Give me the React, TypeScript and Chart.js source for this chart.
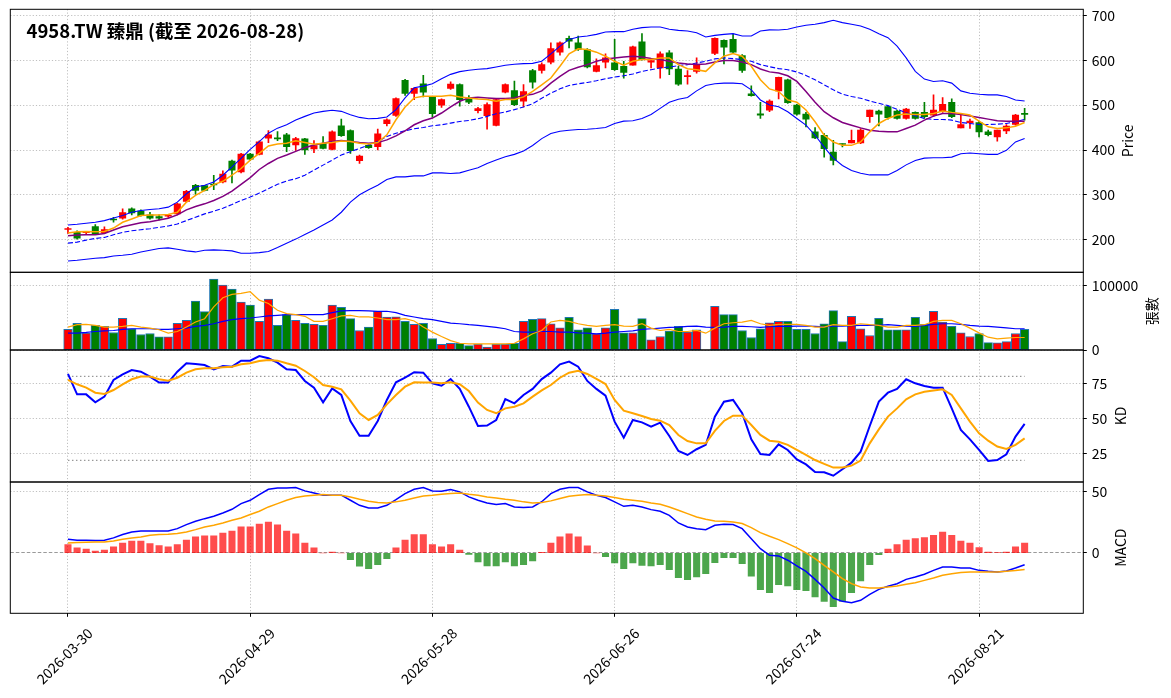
import React, { useEffect, useRef } from "react";
import { Chart, registerables } from "chart.js";

Chart.register(...registerables);

const FONT = "'Noto Sans CJK TC', 'Noto Sans CJK SC', sans-serif";
const TITLE = "4958.TW 臻鼎 (截至 2026-08-28)";

const DATES = [
  "2026-03-30","2026-03-31","2026-04-01","2026-04-02","2026-04-07","2026-04-08","2026-04-09","2026-04-10","2026-04-13","2026-04-14",
  "2026-04-15","2026-04-16","2026-04-17","2026-04-20","2026-04-21","2026-04-22","2026-04-23","2026-04-24","2026-04-27","2026-04-28",
  "2026-04-29","2026-04-30","2026-05-04","2026-05-05","2026-05-06","2026-05-07","2026-05-08","2026-05-11","2026-05-12","2026-05-13",
  "2026-05-14","2026-05-15","2026-05-18","2026-05-19","2026-05-20","2026-05-21","2026-05-22","2026-05-25","2026-05-26","2026-05-27",
  "2026-05-28","2026-05-29","2026-06-01","2026-06-02","2026-06-03","2026-06-04","2026-06-05","2026-06-08","2026-06-09","2026-06-10",
  "2026-06-11","2026-06-12","2026-06-15","2026-06-16","2026-06-17","2026-06-18","2026-06-22","2026-06-23","2026-06-24","2026-06-25",
  "2026-06-26","2026-06-29","2026-06-30","2026-07-01","2026-07-02","2026-07-03","2026-07-06","2026-07-07","2026-07-08","2026-07-09",
  "2026-07-10","2026-07-13","2026-07-14","2026-07-15","2026-07-16","2026-07-17","2026-07-20","2026-07-21","2026-07-22","2026-07-23",
  "2026-07-24","2026-07-27","2026-07-28","2026-07-29","2026-07-30","2026-07-31","2026-08-03","2026-08-04","2026-08-05","2026-08-06",
  "2026-08-07","2026-08-10","2026-08-11","2026-08-12","2026-08-13","2026-08-14","2026-08-17","2026-08-18","2026-08-19","2026-08-20",
  "2026-08-21","2026-08-24","2026-08-25","2026-08-26","2026-08-27","2026-08-28",
];

const OPEN = [
  223, 216.5, 216, 229.2, 215.8, 246, 247.9, 268.9, 263.7, 255.4,
  251.7, 252.5, 257.7, 285.4, 321.3, 320.6, 324, 328.8, 375.3, 351.3,
  391, 390.3, 426.2, 425.5, 433.7, 411.2, 424.7, 402.2, 414.9, 401.5,
  453.9, 443.4, 376, 410.5, 407.5, 458.4, 477.1, 555, 525.8, 547.5,
  518.3, 499.6, 537.1, 546, 514.6, 487.6, 476.4, 454.7, 528.8, 532.6,
  508.6, 577, 577.4, 595.4, 617.9, 648.6, 638.8, 623.9, 575.2, 595.4,
  593.9, 586.4, 588.7, 641.1, 595.4, 582.7, 616.4, 580.4, 563.5, 575.2,
  null, 614.9, 644.1, 646.3, 610.4, 525, 480.8, 489, 531.7, 556.4,
  500.3, 480, 440.4, 432.9, 395.4, 413, 415.6, 415.6, 474, 486.8,
  496.5, 486.8, 470.3, 483.8, 483.8, 477.8, 485.3, 506.3, 449.3, 460.6,
  461.3, 440.4, 429.1, 442.6, 456.8, 481.5,
];
const HIGH = [
  227.7, 220, 219, 233.7, 229, 250, 268.9, 271.2, 266.7, 261.4,
  255.4, 256, 281.6, 310, 323.6, 321.3, 343.8, 353.6, 377.5, 392.5,
  392.5, 420.2, 443.4, 441, 437.4, 428, 426, 421, 430, 442.7,
  468.9, 444.9, 388.8, 415, 446.4, 469.6, 516.1, 557.3, 538.6, 566.3,
  519.8, 513.8, 552, 547.5, 521.3, 495, 504.8, 514.6, 547.5, 553.5,
  546, 579.5, 593.9, 638.8, 641.1, 653.8, 653.8, 626.1, 602.9, 614.1,
  646.3, 597.6, 631.3, 659.1, 603.6, 618.6, 621.6, 586.4, 576.7, 605.1,
  null, 650.1, 645.6, 657.6, 612.6, 542.9, 506.3, 511.5, 562.5, 557.9,
  501.8, 483.8, 450.1, 436.6, 421.6, 414, 444.1, 447.8, 489, 489,
  498, 489, 492.8, 485.3, 506.3, 522.7, 516.7, 513.8, 477.8, 468.8,
  464.3, 444.1, 444.1, 456.8, 479.3, 492.8,
];
const LOW = [
  214.2, 201.5, 213, 211.2, 215, 239, 245.7, 255.4, 252.4, 245.7,
  244.2, 250, 255.4, 283.9, 301.1, 308.6, 311.6, 326.6, 326.6, 349.1,
  376, 388.8, 416.5, 421, 396.3, 399, 390.3, 394, 402.2, 400,
  430, 392.5, 370, 403.7, 400, 453.9, 474.9, 521.3, 512.3, 518.3,
  473.4, 495.1, 534.8, 497.4, 503.3, 482.4, 446.4, 453.9, 527.3, 498.9,
  495.9, 538, 571.4, 591.6, 611.1, 627.6, 621.6, 582.7, 573.7, 582.7,
  577.4, 560.2, 588.7, 599.9, 582.7, 560.2, 567.7, 543.7, 546.7, 571.4,
  null, 612.6, 591.6, 616.4, 572.9, 520, 470.3, 485.3, 513.7, 504,
  477.8, 451.6, 425.4, 384.2, 367, 406.6, 415.6, 414.1, 461.3, 453.8,
  468.8, 468.8, 468.8, 468.8, 470.3, 474, 483.8, 471.8, 449.3, 447.8,
  429.1, 431.4, 419.4, 436.6, 455.3, 466.6,
];
const CLOSE = [
  225, 203.8, 217.5, 212.7, 222.5, 244, 260.7, 259.9, 253.9, 247.9,
  247.9, 254, 280.1, 307.9, 310.1, 310.1, 322, 346.1, 355, 391,
  379.8, 418, 433.7, 424.7, 407.5, 425.5, 400, 409.7, 403.7, 440.4,
  432.2, 398.5, 386.5, 405.2, 435.9, 467.4, 514.6, 525.8, 537.1, 528.8,
  480.9, 512.3, 546.8, 512.3, 506.3, 492.1, 501.1, 512.3, 546, 501.1,
  530.3, 551, 590.1, 626.1, 638.8, 642.6, 623.9, 584.9, 587.9, 605.1,
  578.9, 572.9, 629.9, 601.4, 599.1, 614.1, 580.4, 546.7, 564.5, 590.1,
  null, 648.6, 629.1, 617.9, 577.4, 521.2, 477.8, 509, 561.7, 505.5,
  480, 468.8, 426.9, 402.9, 376.7, 412.2, 421.6, 444.1, 489, 480,
  471.8, 470.3, 491.3, 470.3, 474, 489, 501.8, 474, 456.8, 464.3,
  440.4, 434.4, 444.1, 453.1, 477.8, 479.3,
];

const MA5 = [
  215, 218, 218.5, 218, 218.7, 226.2, 239, 246.4, 253.9, 255.4,
  255.4, 256.2, 261.4, 283.9, 298.9, 310.1, 322.8, 330.3, 343.8, 358.8,
  377.5, 392.5, 409, 413.5, 415, 420.5, 416.5, 412.7, 414.9, 416.5,
  420.2, 418.7, 414.9, 413.5, 416.5, 433.7, 467.4, 495.9, 516.1, 519.8,
  519.8, 519.8, 522.1, 518.3, 516.1, 513.8, 512.3, 508.6, 512.3, 512.3,
  518.3, 530.5, 545.2, 560.2, 586.4, 614.1, 625.4, 623.9, 617.9, 608.9,
  597.6, 588.7, 597.6, 601.4, 601.4, 605.1, 605.1, 590.2, 581.2, 578.9,
  575.2, 593.9, 608.9, 614.9, 608.9, 586.4, 556.4, 536, 530.2, 511.5,
  506.3, 489, 462.8, 432.9, 417.9, 410.4, 410.4, 417.9, 440.4, 459.1,
  470.3, 477.8, 480.1, 479.3, 479.3, 481.5, 486.8, 483.8, 481.5, 477.8,
  464.3, 451.6, 447.8, 449.3, 453.1, 461.3,
];
const MA10 = [
  209, 210.5, 211.2, 211.2, 214.2, 221.7, 229.2, 233.7, 238.2, 240.4,
  244.2, 247.9, 255.4, 266.7, 274.2, 280.1, 287.6, 296.6, 308.6, 323.6,
  338.6, 356.6, 370, 381.3, 388.8, 397, 405.2, 411.2, 414.9, 418.7,
  421, 418.7, 416.5, 414.9, 416.5, 422.5, 431.4, 442.7, 456.2, 465.2,
  471.1, 482.4, 495.9, 508.6, 516.1, 517.6, 516.1, 514.6, 514.6, 516.1,
  521.3, 524, 531.7, 549, 564, 577.4, 584.2, 590.2, 597.6, 602.9,
  605.1, 607.4, 608.9, 607.4, 603.6, 601.4, 597.6, 593.9, 591.6, 590.2,
  591.6, 596.1, 599.1, 599.1, 596.1, 590.2, 580.4, 574, 571.4, 565.4,
  552.7, 530.2, 506.3, 485.3, 471.8, 461.3, 455.3, 449.3, 444.1, 441.9,
  440.4, 440.4, 447.8, 455.3, 466.6, 475.5, 481.5, 481.5, 479.3, 475.5,
  472.6, 468.8, 465.1, 464.3, 464.3, 464.3,
];
const BB_UP = [
  233, 234.5, 236.7, 239, 242.7, 248.7, 254, 261.4, 265.2, 267.4,
  269, 272.7, 283.9, 302.6, 317.6, 321.3, 328.8, 343.8, 362.5, 381.3,
  401.5, 418.7, 437.4, 448.7, 456.2, 467, 474.9, 482.4, 486.1, 488.4,
  486.1, 478.6, 472.6, 469.6, 470.4, 473.4, 489.9, 516.1, 538.6, 542.3,
  547.5, 558.8, 568.5, 574.5, 577.5, 579.8, 581.2, 585, 588.7, 591,
  592.5, 593, 597.6, 614.1, 631.3, 646.3, 651.6, 653.8, 657.6, 662.8,
  663.6, 663.6, 668.8, 672.5, 674, 674, 668.8, 666.5, 665.1, 661.3,
  651.6, 655.3, 657.6, 659.1, 653.8, 653.8, 665.1, 667.5, 667.3, 668.8,
  674, 677.8, 680, 683.8, 689, 683.8, 680, 676.3, 668.8, 659.1,
  650.1, 631.3, 605.1, 575.2, 558, 552.7, 554.2, 549, 531.7, 526.5,
  524.2, 522.7, 522.7, 519, 511.5, 509.3,
];
const BB_MID = [
  192.5, 194.8, 199.3, 203, 205.3, 211.2, 216.5, 220.2, 222.5, 224.7,
  227.7, 230.7, 235.2, 242.7, 250.2, 257.7, 263.7, 270.4, 278.6, 287.6,
  295.1, 304.1, 313.9, 323.6, 331.1, 336, 343.8, 355.1, 366.3, 377.5,
  388.8, 396.3, 403.7, 411.2, 418.7, 430, 437.4, 442.7, 447.2, 450.2,
  453.9, 456.2, 459.9, 463.6, 465.9, 469.6, 474.9, 480.9, 484.6, 489.9,
  495.9, 503, 515.3, 526.5, 536.2, 543.7, 547.5, 550.5, 554.2, 558.7,
  562.4, 565.4, 569.2, 575.2, 578.9, 582.7, 584.9, 587.9, 590.2, 593.9,
  597.6, 602.9, 605.1, 603.6, 601.4, 597.6, 590.2, 585.5, 581.2, 578.9,
  573.7, 566.2, 556.4, 545.2, 534, 524.2, 519, 515.3, 509.3, 504,
  498.8, 490.5, 483, 476.3, 470.3, 468.1, 468.1, 466.6, 461.3, 459.1,
  456.8, 456.8, 457.6, 459.1, 462.8, 468.1,
];
const BB_LOW = [
  152.8, 154.3, 156.6, 158.8, 160.3, 164, 165.5, 167.8, 173, 176.8,
  180.5, 182, 179, 175.3, 173, 176.8, 177.5, 176.8, 175.3, 170,
  170, 171.5, 173.8, 182.8, 192.5, 201.5, 212, 222, 233, 244.2,
  261.4, 283.9, 300.4, 311.6, 321.3, 334.1, 340.1, 340.1, 342.3, 342.3,
  349.1, 349.1, 347.6, 349.1, 355.1, 360.3, 370, 377.5, 385, 390.3,
  397.8, 410, 425.4, 436.6, 441.9, 444.1, 445.6, 446.3, 447.8, 450.1,
  459.1, 464.3, 465.1, 470.3, 479.3, 492.8, 506.3, 513, 516.8, 531.7,
  543.7, 547.5, 549, 549, 547.5, 534, 511.5, 500.3, 496.5, 485.3,
  470.3, 455.3, 432.9, 406.6, 381.9, 365.5, 354.2, 348.2, 344.5, 344.5,
  344.5, 354.2, 366.9, 376.7, 381.9, 382.7, 382.7, 384.2, 391.7, 393.2,
  391.7, 390.2, 390.2, 399.2, 417.9, 425.4,
];

const VOLUME = [
  32100, 41600, 26300, 38400, 36800, 27400, 49500, 33200, 24200, 25800,
  20500, 20500, 41600, 46300, 76300, 60000, 111000, 101600, 95300, 74700,
  70000, 44700, 79500, 38400, 55300, 46300, 41600, 40000, 38400, 70000,
  66800, 48900, 30500, 35800, 60500, 51600, 52000, 44700, 40000, 41600,
  17900, 8900, 10500, 10500, 6800, 8900, 4700, 8900, 8900, 10500,
  44700, 47900, 49000, 41000, 34700, 51000, 31600, 34700, 25300, 34700,
  63700, 26800, 26800, 49000, 15800, 21100, 29500, 36800, 27900, 31600,
  0, 68400, 55300, 55300, 30500, 19500, 33200, 42600, 44700, 44700,
  32100, 32100, 25800, 41000, 61600, 13200, 52600, 33200, 22600, 49500,
  31600, 31600, 31600, 51000, 40000, 60500, 43700, 36800, 26800, 21100,
  25800, 11600, 11100, 13200, 25800, 32100,
];
const VOL_MA5 = [
  35800, 39500, 40000, 38400, 35800, 35800, 36800, 38400, 35800, 34200,
  31600, 26300, 28900, 35800, 43700, 48900, 67400, 81600, 86800, 88400,
  91100, 77900, 72600, 62100, 56800, 55300, 52600, 44700, 44700, 48900,
  53200, 54200, 51600, 51600, 50000, 47400, 47400, 48900, 45300, 35800,
  27900, 21100, 14700, 10500, 9500, 9500, 9500, 9500, 9500, 10500,
  17400, 25300, 30500, 43700, 46300, 44700, 41000, 38400, 36800, 38400,
  39500, 37400, 36800, 41000, 34200, 30500, 32100, 28900, 28900, 30500,
  26300, 34200, 41000, 42600, 43700, 46300, 41000, 38400, 40000, 40000,
  40000, 38400, 35800, 35800, 39500, 38400, 38400, 41000, 39500, 38400,
  35800, 35800, 38400, 38400, 39500, 44700, 46300, 46300, 41000, 34200,
  26800, 20000, 17400, 18400, 19500, 19500,
];
const VOL_MA20 = [
  26300, 26300, 27400, 28900, 30000, 30500, 32100, 33200, 33200, 33200,
  32100, 32100, 33200, 34200, 36800, 38400, 41000, 44700, 47400, 48900,
  50000, 51600, 53200, 54200, 55300, 55300, 55300, 55300, 55300, 58400,
  61100, 61600, 61600, 61100, 60500, 60500, 58400, 54200, 51600, 48900,
  47400, 44700, 42100, 41000, 39500, 38400, 36800, 35300, 33200, 28900,
  27900, 27900, 28900, 28900, 27900, 27900, 26800, 26300, 25300, 26300,
  27900, 28900, 30000, 32100, 33200, 34200, 35300, 35800, 36800, 37400,
  35800, 35300, 35800, 36800, 36800, 36300, 35300, 36300, 36800, 36800,
  37400, 37400, 36800, 36300, 37400, 37400, 37900, 38400, 38400, 38400,
  39500, 38400, 37400, 36800, 38400, 40000, 41000, 41000, 40000, 38400,
  37400, 36800, 35800, 34700, 33200, 33200,
];

const K_LINE = [
  81.7, 67.1, 67.1, 61.4, 65.5, 77.4, 81.4, 84.5, 83.3, 79.8,
  75.5, 75.5, 83.3, 89.3, 88.8, 88.1, 85, 87.4, 86.9, 91.2,
  91.2, 94.5, 92.9, 89.8, 85, 84.5, 76.7, 71.9, 61.4, 71.4,
  66.7, 48.1, 37.6, 37.6, 48.1, 63.1, 75.7, 79, 82.9, 82.6,
  75, 73.3, 78.1, 71, 58.3, 44.5, 44.8, 48.8, 63.8, 60.7,
  66.7, 71, 78, 82.6, 88.6, 90.5, 86.9, 76.7, 71, 66.2,
  47.6, 36.2, 48.8, 47.1, 44, 46.9, 37.4, 26.7, 23.8, 27.9,
  31, 51.2, 61.9, 63.1, 53.6, 35, 24.5, 23.8, 31.4, 27.4,
  20.7, 17.1, 11.7, 11.4, 9, 13.6, 18.3, 26.2, 44.5, 61.9,
  68.3, 71, 77.9, 75, 73.1, 71.9, 71.9, 57.1, 41.7, 35,
  27.4, 19.5, 20.2, 24.3, 36.9, 46,
];
const D_LINE = [
  77.4, 74.3, 71.9, 68.3, 67.4, 70.2, 74.3, 77.9, 79.8, 79.8,
  77.9, 76.9, 79, 82.6, 85, 85.7, 85.7, 86.4, 86.9, 88.6,
  89.3, 91, 91.7, 91.2, 89.3, 87.6, 83.8, 79.3, 73.8, 72.6,
  70.7, 62.6, 53.6, 48.8, 52.4, 60, 66.7, 72.6, 75.7, 75.5,
  75.5, 75, 75.7, 74.3, 69.5, 61.2, 56, 53.6, 57.1, 58.3,
  60.7, 65.5, 70, 73.8, 79, 82.6, 84, 81.7, 78.1, 74.5,
  63.1, 55.5, 53.6, 51.7, 49.5, 48.3, 45.2, 38.1, 33.8, 32.1,
  32.1, 41, 48.1, 51.9, 51.9, 45.2, 38.1, 34, 33.3, 31,
  27.4, 23.8, 20.2, 17.4, 14.8, 14.8, 16.2, 19.8, 32.1, 42.1,
  51.2, 57.1, 63.6, 67.1, 69, 69.8, 70.7, 66.7, 57.1, 47.6,
  39.3, 34, 29.8, 28.1, 31, 35.7,
];
const KD_LEVELS = [80, 20];

const DIF = [
  11.1, 10.3, 10.3, 10, 10.3, 12.2, 14.9, 17, 17.8, 17.8,
  17.8, 17.8, 19.7, 23, 25.7, 27.8, 29.7, 32.4, 35.4, 40,
  42.7, 47.3, 51.6, 52.7, 52.7, 53, 50.3, 48.6, 46.8, 46.8,
  46.8, 42.7, 38.6, 36.5, 36.5, 38.6, 43.2, 48.1, 51.6, 53,
  50.3, 50, 51.4, 49.5, 45.4, 42.7, 40.5, 39.2, 40, 37.3,
  36.8, 37.3, 41.5, 48.1, 51.6, 53, 53, 49.5, 46.8, 44.9,
  41.4, 37.8, 38.6, 37.3, 35.1, 33.8, 30.5, 24.3, 21.1, 19.7,
  18.9, 22.4, 23.2, 23, 19.7, 11.6, 3.5, -1.9, -2.4, -5.9,
  -10.5, -14.9, -21.4, -28.4, -36.5, -39.2, -40.3, -38.4, -33.5, -29.5,
  -27, -24.9, -21.4, -19.5, -17.3, -14.1, -11.4, -11.4, -12.2, -12.2,
  -14.1, -14.9, -15.4, -14.6, -12.2, -9.5,
];
const DEA = [
  8.1, 8.4, 8.6, 8.9, 8.9, 9.7, 11.1, 12.2, 13, 14.3,
  14.9, 15.1, 15.7, 17, 18.9, 21.1, 22.4, 24.3, 26.5, 28.4,
  31.1, 33.8, 37.3, 40, 42.7, 44.9, 46.2, 46.8, 47.3, 46.8,
  46.8, 45.4, 43.5, 41.9, 40.8, 40.5, 41.4, 42.7, 44.6, 46.2,
  46.8, 47.6, 48.1, 48.6, 47.5, 46.8, 45.4, 44.6, 43.5, 42.7,
  41.4, 40.5, 40.8, 42.2, 44.1, 45.9, 46.8, 47.3, 46.8, 46.2,
  44.9, 43.5, 42.7, 41.9, 40.5, 39.5, 37.3, 34.6, 31.9, 29.2,
  27.3, 25.9, 25.7, 25.1, 23.8, 20.5, 16.5, 13.5, 10.8, 7.6,
  4.1, 0, -4.6, -10, -15.4, -20.8, -24.9, -27.6, -28.4, -28.4,
  -27.6, -26.8, -25.4, -24.1, -22.2, -20.3, -18.1, -16.8, -15.9, -15.4,
  -15.4, -15.4, -15.4, -14.9, -14.3, -13.5,
];
const HIST = [
  6.8, 4.1, 3.2, 1.6, 2.4, 4.9, 8.1, 9.7, 9.7, 7.6,
  5.9, 4.9, 6.8, 10.5, 13, 13.8, 13.8, 16.2, 17.8, 21.1,
  21.1, 23.5, 25.1, 22.7, 17.8, 15.4, 8.1, 4.1, 0, 0.8,
  0, -5.4, -10.8, -12.7, -9.5, -4.6, 4.1, 10.5, 14.9, 14.9,
  6.8, 4.9, 6.8, 2.4, -1.1, -7.3, -10.5, -10.5, -7.3, -10.5,
  -9.5, -6.5, 0.5, 8.1, 13, 15.4, 13, 5.7, 0, -3,
  -8.1, -12.7, -8.1, -10, -10.5, -9.5, -13.5, -20, -21.6, -19.5,
  -16.8, -7.8, -3.8, -3.8, -8.6, -18.9, -29.7, -32.2, -25.7, -26.8,
  -29.7, -30.5, -35.7, -39.2, -43.5, -39.2, -32.2, -22.7, -9.5, -1.4,
  3.2, 6.8, 10.5, 11.6, 12.4, 14.3, 17, 14.3, 9.7, 8.1,
  4.3, 0.8, 0.3, 0.8, 4.9, 8.1,
];

const X_TICKS = [0, 20, 40, 60, 80, 100];
const PRICE_TICKS = [200, 300, 400, 500, 600, 700];
const VOL_TICKS = [0, 100000];
const KD_TICKS = [25, 50, 75];
const MACD_TICKS = [0, 50];

// ---- layout / style constants ----
const PAGE_W = 1171;
const PAGE_H = 698;
const PLOT_LEFT = 10.3;
const PLOT_RIGHT = 1083.3;
const X_MIN = -6.33;
const X_MAX = 111.44;
const RED = "#ff0000";
const GREEN = "#008000";
const BLUE = "#0000ff";
const ORANGE = "#ffa500";
const PURPLE = "#800080";
const GRID = "#b0b0b0";

const IDX = DATES.map((_, i) => i);
const pts = (arr: any[]) => arr.map((v, i) => ({ x: i, y: v }));
const isUp = (i: number) => (CLOSE[i] as number) >= (OPEN[i] as number);
const CANDLE_IDX = IDX.filter((i) => OPEN[i] !== null);

const lineDs = (data: number[], color: string, width: number, order: number, dash?: number[]) => ({
  type: "line",
  data: pts(data),
  borderColor: color,
  borderWidth: width,
  borderDash: dash || [],
  pointRadius: 0,
  tension: 0,
  fill: false,
  order,
});

function priceDatasets() {
  return [
    {
      type: "bar",
      data: CANDLE_IDX.map((i) => ({ x: i, y: [LOW[i], HIGH[i]] })),
      backgroundColor: CANDLE_IDX.map((i) => (isUp(i) ? RED : GREEN)),
      barThickness: 1,
      grouped: false,
      order: 6,
    },
    {
      type: "bar",
      data: CANDLE_IDX.map((i) => ({ x: i, y: [OPEN[i], CLOSE[i]] })),
      backgroundColor: CANDLE_IDX.map((i) => (isUp(i) ? RED : GREEN)),
      barThickness: 6.4,
      minBarLength: 1,
      grouped: false,
      order: 5,
    },
    lineDs(BB_UP, BLUE, 1.1, 3),
    lineDs(BB_LOW, BLUE, 1.1, 3),
    lineDs(BB_MID, BLUE, 1.1, 3, [5, 2.2]),
    lineDs(MA10, PURPLE, 1.5, 1),
    lineDs(MA5, ORANGE, 1.5, 0),
  ];
}

function volumeDatasets() {
  return [
    {
      type: "bar",
      data: pts(VOLUME),
      backgroundColor: IDX.map((i) => (OPEN[i] === null ? GREEN : isUp(i) ? RED : GREEN)),
      borderColor: "#1f77b4",
      borderWidth: 1,
      borderSkipped: false,
      barThickness: 8.6,
      grouped: false,
      order: 5,
    },
    lineDs(VOL_MA20, BLUE, 1.2, 1),
    lineDs(VOL_MA5, ORANGE, 1.2, 0),
  ];
}

function kdDatasets() {
  return [
    ...KD_LEVELS.map((lv) => ({
      type: "line",
      data: IDX.map((i) => ({ x: i, y: lv })),
      borderColor: "#808080",
      borderWidth: 1,
      borderDash: [1.5, 2.5],
      pointRadius: 0,
      fill: false,
      order: 4,
    })),
    lineDs(K_LINE, BLUE, 2, 1),
    lineDs(D_LINE, ORANGE, 2, 0),
  ];
}

function macdDatasets() {
  return [
    {
      type: "bar",
      data: pts(HIST),
      backgroundColor: HIST.map((v) => (v >= 0 ? "rgba(255,0,0,0.7)" : "rgba(0,128,0,0.7)")),
      barThickness: 6.4,
      grouped: false,
      order: 5,
    },
    lineDs(DIF, BLUE, 1.5, 1),
    lineDs(DEA, ORANGE, 1.5, 0),
  ];
}

const PANELS = [
  { key: "price", top: 0, height: 292, padTop: 9.3, padBottom: 19.7, xH: 0, yMin: 127.6, yMax: 713.4, ticks: PRICE_TICKS, title: "Price", datasets: priceDatasets, showTitle: true },
  { key: "vol", top: 252, height: 118, padTop: 20.3, padBottom: 20, xH: 0, yMin: 0, yMax: 121400, ticks: VOL_TICKS, title: "張數", datasets: volumeDatasets },
  { key: "kd", top: 330, height: 172, padTop: 20, padBottom: 20, xH: 0, yMin: 4.5, yMax: 98.8, ticks: KD_TICKS, title: "KD", datasets: kdDatasets },
  { key: "macd", top: 462, height: 236, padTop: 20, padBottom: 0, xH: 84.7, yMin: -48.9, yMax: 57.5, ticks: MACD_TICKS, title: "MACD", datasets: macdDatasets, xLabels: true },
];

const framePlugin = {
  id: "panelFrame",
  afterDatasetsDraw(chart: any) {
    const { ctx, chartArea: a } = chart;
    ctx.save();
    ctx.strokeStyle = "#000";
    ctx.lineWidth = 1;
    ctx.setLineDash([]);
    ctx.strokeRect(a.left, a.top, a.right - a.left, a.bottom - a.top);
    ctx.restore();
  },
};

const yTitlePlugin = {
  id: "yTitle",
  afterDraw(chart: any, _args: any, opts: any) {
    if (!opts || !opts.text) return;
    const { ctx, chartArea: a } = chart;
    const scale = chart.scales.y;
    ctx.save();
    ctx.font = `14px ${FONT}`;
    let maxW = 0;
    scale.ticks.forEach((t: any) => {
      const w = ctx.measureText(String(t.label)).width;
      if (w > maxW) maxW = w;
    });
    const x = a.right + 3.5 + 4.9 + maxW + 5.6 + 7.5;
    const y = (a.top + a.bottom) / 2;
    ctx.translate(x, y);
    ctx.rotate(-Math.PI / 2);
    ctx.textAlign = "center";
    ctx.textBaseline = "middle";
    ctx.fillStyle = "#000";
    ctx.fillText(opts.text, 0, 0);
    ctx.restore();
  },
};

const chartTitlePlugin = {
  id: "chartTitle",
  afterDraw(chart: any, _args: any, opts: any) {
    if (!opts || !opts.text) return;
    const { ctx } = chart;
    ctx.save();
    ctx.font = `bold 18.5px ${FONT}`;
    ctx.fillStyle = "#000";
    ctx.textAlign = "left";
    ctx.textBaseline = "alphabetic";
    ctx.fillText(opts.text, 26.5, 37.8);
    ctx.restore();
  },
};

function buildConfig(p: any) {
  const tickFont = { family: FONT, size: 14 };
  return {
    type: "bar",
    data: { datasets: p.datasets() },
    options: {
      animation: false,
      responsive: true,
      maintainAspectRatio: false,
      events: [],
      layout: { padding: { top: p.padTop, bottom: p.padBottom, left: PLOT_LEFT, right: 0 } },
      plugins: {
        legend: { display: false },
        tooltip: { enabled: false },
        yTitle: { text: p.title },
        chartTitle: { text: p.showTitle ? TITLE : "" },
      },
      scales: {
        x: {
          type: "linear",
          position: "bottom",
          min: X_MIN,
          max: X_MAX,
          offset: false,
          afterBuildTicks: (s: any) => {
            s.ticks = X_TICKS.map((v) => ({ value: v }));
          },
          afterFit: (s: any) => {
            s.height = p.xH;
            s.paddingLeft = 0;
            s.paddingRight = 0;
          },
          ticks: {
            display: !!p.xLabels,
            autoSkip: false,
            maxRotation: 45,
            minRotation: 45,
            labelOffset: 22,
            padding: 8,
            font: tickFont,
            color: "#000",
            callback: (v: any) => DATES[v] || "",
          },
          grid: {
            offset: false,
            color: GRID,
            lineWidth: 0.8,
            drawTicks: !!p.xLabels,
            tickLength: 3.5,
            tickColor: "#000",
            tickWidth: 1,
            tickBorderDash: [],
          },
          border: { display: false, dash: [1.2, 2] },
        },
        y: {
          type: "linear",
          position: "right",
          min: p.yMin,
          max: p.yMax,
          afterBuildTicks: (s: any) => {
            s.ticks = p.ticks.map((v: number) => ({ value: v }));
          },
          afterFit: (s: any) => {
            s.width = PAGE_W - PLOT_RIGHT;
            s.paddingTop = 0;
            s.paddingBottom = 0;
          },
          ticks: {
            font: tickFont,
            color: "#000",
            padding: 4.9,
            callback: (v: any) => String(v),
          },
          grid: {
            color: (c: any) => (p.key === "macd" && c.tick && c.tick.value === 0 ? "#808080" : GRID),
            lineWidth: 0.8,
            drawTicks: true,
            tickLength: 3.5,
            tickColor: "#000",
            tickWidth: 1,
            tickBorderDash: [],
          },
          border: {
            display: false,
            dash: (c: any) => (p.key === "macd" && c.tick && c.tick.value === 0 ? [3.5, 2] : [1.2, 2]),
          },
        },
      },
    },
    plugins: [framePlugin, yTitlePlugin, chartTitlePlugin],
  };
}

function Panel({ cfg }: { cfg: any }) {
  const ref = useRef<HTMLCanvasElement | null>(null);
  useEffect(() => {
    if (!ref.current) return;
    const chart = new Chart(ref.current, buildConfig(cfg) as any);
    return () => chart.destroy();
  }, [cfg]);
  return (
    <div style={{ position: "absolute", left: 0, top: cfg.top, width: PAGE_W, height: cfg.height }}>
      <canvas ref={ref} />
    </div>
  );
}

export default function App() {
  return (
    <div style={{ position: "absolute", left: 0, top: 0, width: PAGE_W, height: PAGE_H, background: "#fff", overflow: "hidden" }}>
      {PANELS.map((p) => (
        <Panel key={p.key} cfg={p} />
      ))}
    </div>
  );
}
